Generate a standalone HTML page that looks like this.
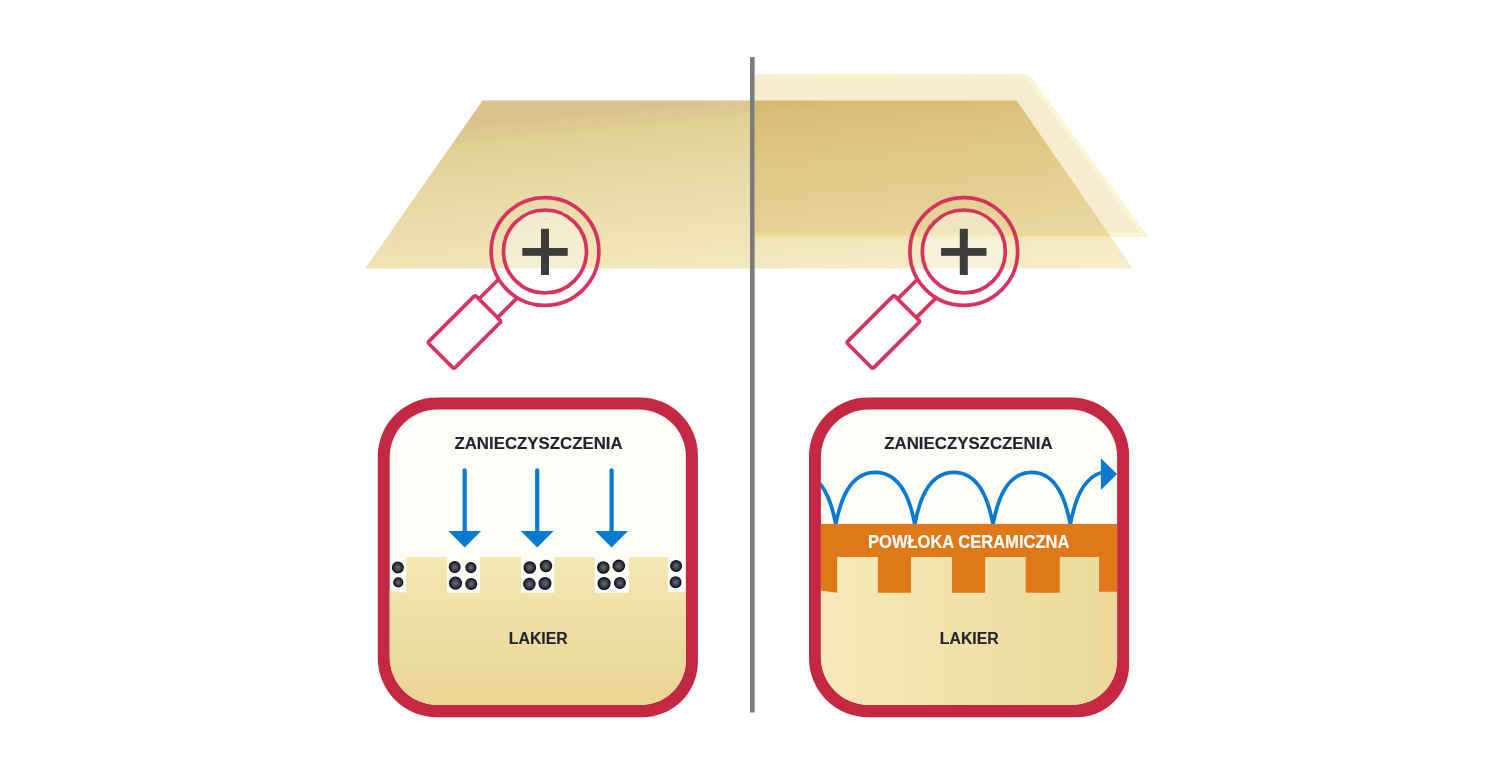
<!DOCTYPE html>
<html>
<head>
<meta charset="utf-8">
<title>Powłoka ceramiczna</title>
<style>
  html, body { margin: 0; padding: 0; background: #ffffff; }
  body { width: 1500px; height: 757px; overflow: hidden; }
  svg { display: block; will-change: transform; }
  text { font-family: "Liberation Sans", sans-serif; font-weight: bold; }
</style>
</head>
<body>
<svg width="1500" height="757" viewBox="0 0 1500 757">
  <defs>
    <!-- paint panel (left, uncoated) -->
    <linearGradient id="gPanel" gradientUnits="userSpaceOnUse" x1="482.5" y1="100.5" x2="505.6" y2="331.3">
      <stop offset="0" stop-color="#d9c18a"/>
      <stop offset="0.095" stop-color="#dac38b"/>
      <stop offset="0.19" stop-color="#e1cf93"/>
      <stop offset="0.44" stop-color="#e9daa8"/>
      <stop offset="0.668" stop-color="#efe3b4"/>
      <stop offset="0.828" stop-color="#f3e8c0"/>
      <stop offset="1" stop-color="#f7eecb"/>
    </linearGradient>
    <!-- paint panel seen through coating (right) -->
    <linearGradient id="gPanelCoated" gradientUnits="userSpaceOnUse" x1="482.5" y1="100.5" x2="505.6" y2="331.3">
      <stop offset="0" stop-color="#d0b26c"/>
      <stop offset="0.095" stop-color="#d2b56e"/>
      <stop offset="0.19" stop-color="#d8be77"/>
      <stop offset="0.44" stop-color="#e0c987"/>
      <stop offset="0.76" stop-color="#e8d59b"/>
      <stop offset="1" stop-color="#eedda8"/>
    </linearGradient>
    <linearGradient id="gRimBot" x1="0" y1="0" x2="0" y2="1">
      <stop offset="0" stop-color="#f3de84" stop-opacity="0"/>
      <stop offset="0.6" stop-color="#f3de84" stop-opacity="0.5"/>
      <stop offset="1" stop-color="#f5e187" stop-opacity="0.72"/>
    </linearGradient>
    <linearGradient id="gRimTop" gradientUnits="userSpaceOnUse" x1="754.6" y1="0" x2="1030" y2="0">
      <stop offset="0" stop-color="#fff5bf" stop-opacity="0.15"/>
      <stop offset="0.3" stop-color="#fff5bf" stop-opacity="1"/>
      <stop offset="0.45" stop-color="#fff5bf" stop-opacity="0.9"/>
      <stop offset="0.9" stop-color="#fbf3c8" stop-opacity="0.25"/>
      <stop offset="1" stop-color="#fbf7d4" stop-opacity="0.6"/>
    </linearGradient>
    <!-- lacquer in left box -->
    <linearGradient id="gLakL" x1="0" y1="0" x2="0" y2="1">
      <stop offset="0" stop-color="#f4e7b2"/>
      <stop offset="1" stop-color="#e9d593"/>
    </linearGradient>
    <!-- lacquer in right box -->
    <linearGradient id="gLakR" x1="0" y1="0" x2="1" y2="0">
      <stop offset="0" stop-color="#f5e9b8"/>
      <stop offset="1" stop-color="#ecd998"/>
    </linearGradient>
    <radialGradient id="gBall" cx="0.5" cy="0.5" r="0.5">
      <stop offset="0" stop-color="#686d79"/>
      <stop offset="0.45" stop-color="#454a55"/>
      <stop offset="0.8" stop-color="#2c303a"/>
      <stop offset="1" stop-color="#1c1f28"/>
    </radialGradient>
    <clipPath id="clipL"><path d="M437.2,409.6 H638.9 A47,47 0 0 1 685.9,456.6 V660.0 A45,45 0 0 1 640.9,705.0 H437.7 A48,48 0 0 1 389.7,657.0 V457.1 A47.5,47.5 0 0 1 437.2,409.6 Z"/></clipPath>
    <clipPath id="clipR"><path d="M868.4,409.6 H1070.1 A47,47 0 0 1 1117.1,456.6 V660.0 A45,45 0 0 1 1072.1,705.0 H868.9 A48,48 0 0 1 820.9,657.0 V457.1 A47.5,47.5 0 0 1 868.4,409.6 Z"/></clipPath>

    <!-- magnifier (centre of lens at 0,0) -->
    <g id="mag">
      <g transform="rotate(45)" fill="none" stroke="#d6335f" stroke-width="3.7" stroke-linejoin="round">
        <line x1="-13.2" y1="52" x2="-13.2" y2="80"/>
        <line x1="13.2" y1="52" x2="13.2" y2="80"/>
        <rect x="-18.5" y="80.3" width="37" height="67" rx="2" ry="2"/>
      </g>
      <circle r="41.5" fill="#ffffff" fill-opacity="0.38" stroke="none"/>
      <circle r="53.85" fill="none" stroke="#d6335f" stroke-width="3.7"/>
      <circle r="41.5" fill="none" stroke="#d6335f" stroke-width="3.7"/>
      <rect x="-22.7" y="-3.5" width="45.4" height="7.8" fill="#3c3c3b"/>
      <rect x="-4" y="-22.7" width="8" height="46.2" fill="#3c3c3b"/>
    </g>
  </defs>

  <!-- ============ TOP: paint panel ============ -->
  <polygon points="482.5,100.5 1016.6,100.5 1132.8,268.6 365,268.6" fill="url(#gPanel)"/>

  <!-- ceramic coating sheet (right half) -->
  <g id="coat">
    <clipPath id="clipCoat"><polygon points="754.6,74.3 1028.5,74.3 1147.9,236.7 754.6,236.7"/></clipPath>
    <clipPath id="clipPanel"><polygon points="482.5,100.5 1016.6,100.5 1132.8,268.6 365,268.6"/></clipPath>
    <clipPath id="clipRimPanel"><rect x="754.6" y="228" width="400" height="8.7"/></clipPath>
    <polygon points="754.6,74.3 1028.5,74.3 1147.9,236.7 754.6,236.7" fill="#f6eccf"/>
    <polygon points="482.5,100.5 1016.6,100.5 1132.8,268.6 365,268.6" fill="url(#gPanelCoated)" clip-path="url(#clipCoat)"/>
    <!-- pale yellow rim of the coating sheet -->
    <g clip-path="url(#clipCoat)">
      <rect x="754.6" y="74.3" width="280" height="4.4" fill="url(#gRimTop)"/>
      <polyline points="1024.9,69.5 1147.9,236.7 754.6,236.7" fill="none" stroke="#fbf6d2" stroke-width="8.4" stroke-linejoin="miter"/>
      <polygon points="482.5,100.5 1016.6,100.5 1132.8,268.6 365,268.6" fill="url(#gPanelCoated)" clip-path="url(#clipRimPanel)"/>
      <rect x="754.6" y="230.7" width="400" height="6" fill="url(#gRimBot)" clip-path="url(#clipPanel)"/>
    </g>
  </g>

  <!-- divider -->
  <rect x="750" y="57.1" width="4.6" height="655.4" fill="#7b7b7b"/>

  <!-- magnifiers -->
  <use href="#mag" x="545" y="251.5"/>
  <use href="#mag" x="963.8" y="251.5"/>

  <!-- ============ LEFT BOX ============ -->
  <g id="boxL">
    <path d="M436.8,397.4 H639.9 A58,58 0 0 1 697.9,455.4 V661.7 A55.5,55.5 0 0 1 642.4,717.2 H436.8 A59,59 0 0 1 377.8,658.2 V456.4 A59,59 0 0 1 436.8,397.4 Z" fill="#c42843"/>
    <path d="M437.2,409.6 H638.9 A47,47 0 0 1 685.9,456.6 V660.0 A45,45 0 0 1 640.9,705.0 H437.7 A48,48 0 0 1 389.7,657.0 V457.1 A47.5,47.5 0 0 1 437.2,409.6 Z" fill="#fdfcf7"/>
    <polygon points="388.0,590.3 406.2,592.8 406.2,557.1 446.9,557.1 446.9,592.8 480.0,592.8 480.0,557.1 521.0,557.1 521.0,592.8 554.2,592.8 554.2,557.1 594.7,557.1 594.7,592.8 628.8,592.8 628.8,557.1 668.1,557.1 668.1,591.8 688.0,591.8 688.0,708.0 388.0,708.0" fill="url(#gLakL)" clip-path="url(#clipL)"/>
    <circle cx="397.9" cy="567.5" r="5.35" fill="url(#gBall)" stroke="#12151d" stroke-width="1.3"/>
    <circle cx="398.3" cy="582.4" r="4.45" fill="url(#gBall)" stroke="#12151d" stroke-width="1.3"/>
    <circle cx="454.7" cy="567.1" r="5.35" fill="url(#gBall)" stroke="#12151d" stroke-width="1.3"/>
    <circle cx="470.9" cy="567.6" r="4.95" fill="url(#gBall)" stroke="#12151d" stroke-width="1.3"/>
    <circle cx="455.5" cy="583.1" r="5.95" fill="url(#gBall)" stroke="#12151d" stroke-width="1.3"/>
    <circle cx="471.2" cy="583.9" r="5.35" fill="url(#gBall)" stroke="#12151d" stroke-width="1.3"/>
    <circle cx="529.8" cy="567.5" r="5.65" fill="url(#gBall)" stroke="#12151d" stroke-width="1.3"/>
    <circle cx="546.0" cy="566.0" r="5.55" fill="url(#gBall)" stroke="#12151d" stroke-width="1.3"/>
    <circle cx="529.4" cy="584.1" r="5.65" fill="url(#gBall)" stroke="#12151d" stroke-width="1.3"/>
    <circle cx="545.0" cy="583.4" r="5.85" fill="url(#gBall)" stroke="#12151d" stroke-width="1.3"/>
    <circle cx="603.3" cy="567.5" r="5.65" fill="url(#gBall)" stroke="#12151d" stroke-width="1.3"/>
    <circle cx="618.8" cy="565.9" r="5.65" fill="url(#gBall)" stroke="#12151d" stroke-width="1.3"/>
    <circle cx="604.1" cy="583.5" r="5.95" fill="url(#gBall)" stroke="#12151d" stroke-width="1.3"/>
    <circle cx="619.9" cy="582.9" r="5.35" fill="url(#gBall)" stroke="#12151d" stroke-width="1.3"/>
    <circle cx="676.1" cy="566.0" r="5.35" fill="url(#gBall)" stroke="#12151d" stroke-width="1.3"/>
    <circle cx="675.6" cy="582.3" r="5.35" fill="url(#gBall)" stroke="#12151d" stroke-width="1.3"/>
    <line x1="464.7" y1="470.3" x2="464.7" y2="533" stroke="#087bd0" stroke-width="4.2" stroke-linecap="round"/>
    <polygon points="448.3,531.1 481.1,531.1 464.7,547.4" fill="#087bd0"/>
    <line x1="537.2" y1="470.3" x2="537.2" y2="533" stroke="#087bd0" stroke-width="4.2" stroke-linecap="round"/>
    <polygon points="520.8,531.1 553.6,531.1 537.2,547.4" fill="#087bd0"/>
    <line x1="611.6" y1="470.3" x2="611.6" y2="533" stroke="#087bd0" stroke-width="4.2" stroke-linecap="round"/>
    <polygon points="595.2,531.1 628.0,531.1 611.6,547.4" fill="#087bd0"/>
    <text x="454.4" y="449" font-size="17.4" fill="#22262e" stroke="#22262e" stroke-width="0.15" textLength="168.3" lengthAdjust="spacingAndGlyphs">ZANIECZYSZCZENIA</text>
    <text x="508.8" y="643.7" font-size="17.4" fill="#22262e" stroke="#22262e" stroke-width="0.15" textLength="59" lengthAdjust="spacingAndGlyphs">LAKIER</text>
  </g>

  <!-- ============ RIGHT BOX ============ -->
  <g id="boxR">
    <path d="M868.0,397.4 H1071.1 A58,58 0 0 1 1129.1,455.4 V665.2 A52,52 0 0 1 1077.1,717.2 H868.0 A59,59 0 0 1 809.0,658.2 V456.4 A59,59 0 0 1 868.0,397.4 Z" fill="#c42843"/>
    <path d="M868.4,409.6 H1070.1 A47,47 0 0 1 1117.1,456.6 V660.0 A45,45 0 0 1 1072.1,705.0 H868.9 A48,48 0 0 1 820.9,657.0 V457.1 A47.5,47.5 0 0 1 868.4,409.6 Z" fill="#fdfcf7"/>
    <g clip-path="url(#clipR)">
      <path d="M 756.90,524.20 C 760.81,504.12 769.33,472.40 796.35,472.40 C 823.37,472.40 831.89,504.12 835.80,524.20 C 839.71,504.12 848.24,472.40 875.30,472.40 C 902.36,472.40 910.89,504.12 914.80,524.20 C 918.67,504.12 927.12,472.40 953.90,472.40 C 980.68,472.40 989.13,504.12 993.00,524.20 C 996.83,504.12 1005.17,472.40 1031.65,472.40 C 1058.13,472.40 1066.47,504.12 1070.30,524.20 C 1074.20,503.77 1082.71,471.50 1109.70,471.50" fill="none" stroke="#087bd0" stroke-width="3.7" stroke-linejoin="round"/>
      <polygon points="1100.9,458.2 1117.1,474.1 1100.9,490.1" fill="#087bd0"/>
      <rect x="819" y="523.9" width="300" height="72" fill="#de7818"/>
    </g>
    <polygon points="819.0,590.3 837.2,592.8 837.2,557.1 877.9,557.1 877.9,592.8 911.0,592.8 911.0,557.1 952.0,557.1 952.0,592.8 985.2,592.8 985.2,557.1 1025.7,557.1 1025.7,592.8 1059.8,592.8 1059.8,557.1 1099.1,557.1 1099.1,591.8 1119.0,591.8 1119.0,708.0 819.0,708.0" fill="url(#gLakR)" clip-path="url(#clipR)"/>
    <text x="868.0" y="547.6" font-size="17.8" fill="#ffffff" stroke="#ffffff" stroke-width="0.15" textLength="201.4" lengthAdjust="spacingAndGlyphs">POWŁOKA CERAMICZNA</text>
    <text x="884.25" y="449" font-size="17.4" fill="#22262e" stroke="#22262e" stroke-width="0.15" textLength="168.3" lengthAdjust="spacingAndGlyphs">ZANIECZYSZCZENIA</text>
    <text x="939.8" y="643.7" font-size="17.4" fill="#22262e" stroke="#22262e" stroke-width="0.15" textLength="59" lengthAdjust="spacingAndGlyphs">LAKIER</text>
  </g>
</svg>
</body>
</html>
